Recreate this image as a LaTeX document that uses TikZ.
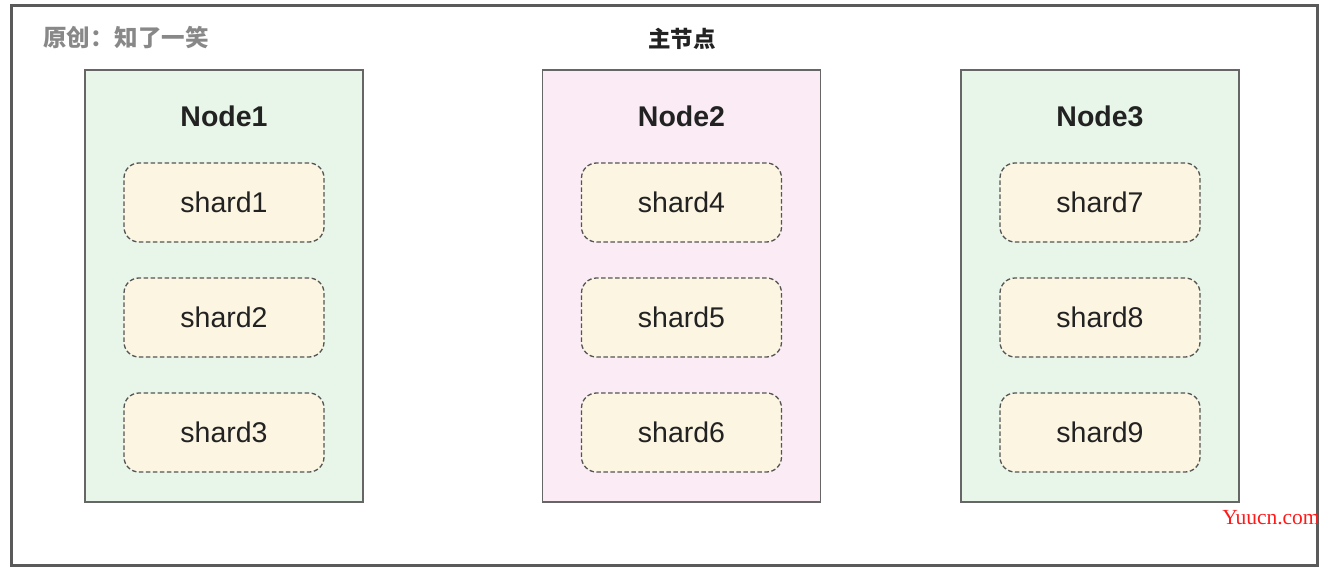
\documentclass[tikz,border=0pt]{standalone}
\usepackage{fontspec}
\setmainfont{Liberation Sans}
\newfontfamily\cjk{Noto Sans CJK SC}
\newfontfamily\wmfont{Liberation Serif}
\definecolor{framegray}{HTML}{5A5A5A}
\definecolor{boxgray}{HTML}{666666}
\definecolor{dashgray}{HTML}{555555}
\definecolor{greenfill}{HTML}{E8F6E9}
\definecolor{pinkfill}{HTML}{FAEBF5}
\definecolor{shardfill}{HTML}{FBF5E1}
\definecolor{titlegray}{HTML}{888888}
\definecolor{textdark}{HTML}{222222}
\definecolor{wmred}{HTML}{FF1A1A}
\tikzset{
  framebox/.style={draw=framegray, line width=3pt},
  nodebox/.style={draw=boxgray, line width=1.6pt, minimum width=278pt, minimum height=432pt, inner sep=0pt},
  shardbox/.style={draw=dashgray, line width=1.3pt, dash pattern=on 4.5pt off 2.5pt, fill=shardfill, rounded corners=15pt, minimum width=200pt, minimum height=79pt, inner sep=0pt, font=\fontsize{28.5}{30}\selectfont, text=textdark},
  nodetitle/.style={inner sep=0pt, font=\fontsize{28.5}{30}\selectfont\bfseries, text=textdark},
  cjktitle/.style={inner sep=0pt, font=\cjk\bfseries\fontsize{22.5}{24}\selectfont},
}
\begin{document}
\begin{tikzpicture}[x=1pt, y=-1pt]
\useasboundingbox (0,0) rectangle (1332,572);
\fill[white] (0,0) rectangle (1332,572);
\draw[framebox] (11.5,5.5) rectangle (1317,565.5);
\node[inner sep=0pt, font=\cjk\bfseries\fontsize{23.5}{25}\selectfont, text=titlegray, anchor=west] (author) at (43,37.5) {\addfontfeature{LetterSpace=1}原创：知了一笑};
\node[cjktitle, text=textdark] (master) at (682,38.5) {主节点};
% node boxes
\node[nodebox, fill=greenfill] (n1) at (224,286) {};
\node[nodebox, fill=pinkfill] (n2) at (681.5,286) {};
\node[nodebox, fill=greenfill] (n3) at (1100,286) {};
\node[nodetitle] (t1) at (224,116.5) {Node1};
\node[nodetitle] (t2) at (681.5,116.5) {Node2};
\node[nodetitle] (t3) at (1100,116.5) {Node3};
% shards
\node[shardbox] (s1) at (224,202.5) {shard1};
\node[shardbox] (s2) at (224,317.5) {shard2};
\node[shardbox] (s3) at (224,432.5) {shard3};
\node[shardbox] (s4) at (681.5,202.5) {shard4};
\node[shardbox] (s5) at (681.5,317.5) {shard5};
\node[shardbox] (s6) at (681.5,432.5) {shard6};
\node[shardbox] (s7) at (1100,202.5) {shard7};
\node[shardbox] (s8) at (1100,317.5) {shard8};
\node[shardbox] (s9) at (1100,432.5) {shard9};
% watermark
\node[inner sep=0pt, text=wmred, font=\wmfont\fontsize{21.5}{22}\selectfont] (wm) at (1271,518) {Yuucn.com};
\end{tikzpicture}
\end{document}
